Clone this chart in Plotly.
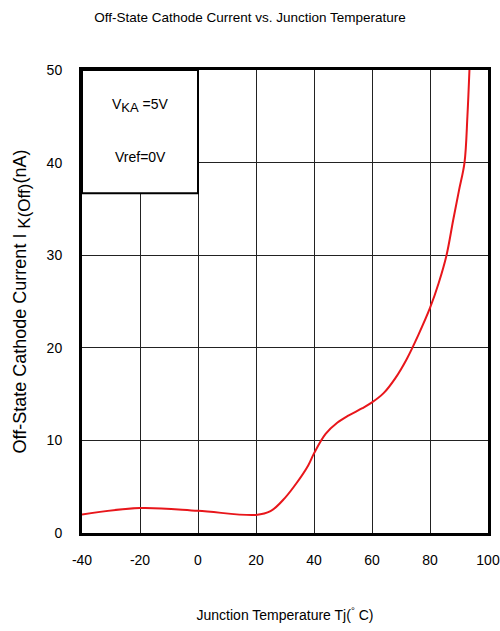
import plotly.graph_objects as go

temp_c = [-40, -20, 0, 20, 25, 30, 34, 38, 40, 44, 48, 52, 56.5, 60, 64, 68, 72, 76, 80, 83, 85.7, 88, 90, 91.9, 92.9, 93.6]
current_na = [2.0, 2.7, 2.4, 1.95, 2.35, 3.8, 5.4, 7.3, 8.6, 10.7, 11.9, 12.7, 13.45, 14.1, 15.1, 16.7, 18.8, 21.4, 24.3, 27.0, 30.0, 33.8, 37.0, 40.0, 45.0, 50.0]
x_ticks = [-40, -20, 0, 20, 40, 60, 80, 100]
x_tick_text = ["-40", "-20", "0", "20", "40", "60", "80", "100"]
y_ticks = [0, 10, 20, 30, 40, 50]
y_tick_text = ["0", "10", "20", "30", "40", "50"]

font_main = "Liberation Sans, Arial, sans-serif"

fig = go.Figure()
fig.add_trace(go.Scatter(x=temp_c, y=current_na, mode="lines",
                         line=dict(color="#e8161b", width=2, shape="spline", smoothing=1.0),
                         showlegend=False, hoverinfo="skip"))

# legend box (white, covers grid)
fig.add_shape(type="rect", xref="x", yref="y", x0=-40, x1=0, y0=36.7, y1=50,
              fillcolor="white", line=dict(color="black", width=2), layer="above")
fig.add_annotation(x=-20, y=46.2, xref="x", yref="y",
                   text="V<sub><span style='font-size:13px'>KA</span></sub> =5V", showarrow=False,
                   font=dict(family=font_main, size=14, color="black"))
fig.add_annotation(x=-20, y=40.6, xref="x", yref="y", text="Vref=0V", showarrow=False,
                   font=dict(family=font_main, size=14, color="black"))

fig.update_layout(
    width=500, height=631,
    margin=dict(l=82, r=12, t=70, b=98),
    paper_bgcolor="white", plot_bgcolor="white",
    title=dict(text="Off-State Cathode Current vs. Junction Temperature", x=0.5, xanchor="center",
               y=0.972, yanchor="middle", font=dict(family=font_main, size=13.5, color="black")),
    xaxis=dict(range=[-40, 100], tickvals=x_ticks, ticktext=x_tick_text, showgrid=True,
               gridcolor="#222", gridwidth=1, automargin=False, ticklabeloverflow="allow",
               zeroline=False, showline=True, linecolor="black", linewidth=3, mirror=True,
               ticks="", ticklabelstandoff=12,
               tickfont=dict(family=font_main, size=14, color="black"),
               title=dict(text="Junction Temperature Tj(<sup>°</sup> C)", standoff=44,
                          font=dict(family=font_main, size=14, color="black"))),
    yaxis=dict(range=[0, 50], tickvals=y_ticks, ticktext=y_tick_text, showgrid=True,
               gridcolor="#222", gridwidth=1, automargin=False,
               zeroline=False, showline=True, linecolor="black", linewidth=3, mirror=True,
               ticks="", ticklabelstandoff=14,
               tickfont=dict(family=font_main, size=14, color="black"),
               title=dict(text="Off-State Cathode Current I <sub><span style='font-size:17px'>K(Off)</span></sub>(nA)",
                          standoff=16,
                          font=dict(family=font_main, size=18, color="black"))),
)

fig.write_html("out.html")
